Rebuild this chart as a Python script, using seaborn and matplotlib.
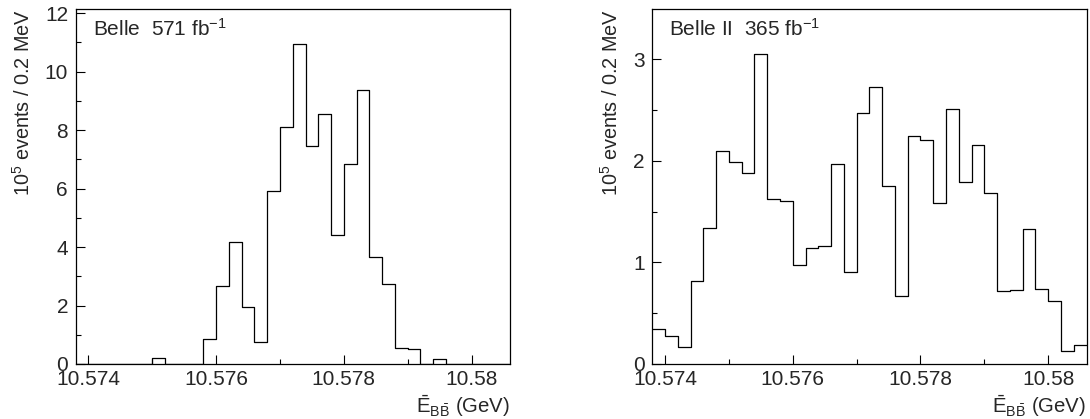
import numpy as np
import pandas as pd
import matplotlib
matplotlib.use("Agg")
import matplotlib.pyplot as plt
from matplotlib.ticker import FixedLocator, MultipleLocator
import seaborn as sns

# Binning shared by both panels (GeV)
bin_low = 10.5738
bin_width = 0.0002
n_bins = 34

# Yields per 0.2 MeV bin, in units of 10^5 events
belle_values = [0, 0, 0, 0, 0, 0, 0.22, 0, 0, 0,
                0.845, 2.67, 4.17, 1.94, 0.74, 5.90, 8.12, 10.95, 7.44, 8.55,
                4.42, 6.85, 9.37, 3.65, 2.75, 0.56, 0.525, 0, 0.16, 0,
                0, 0, 0, 0]
belle2_values = [0.348, 0.279, 0.171, 0.814, 1.339, 2.100, 1.989, 1.884, 3.046, 1.625,
                 1.608, 0.978, 1.139, 1.165, 1.963, 0.903, 2.468, 2.724, 1.749, 0.666,
                 2.248, 2.205, 1.582, 2.507, 1.792, 2.159, 1.680, 0.722, 0.732, 1.326,
                 0.742, 0.617, 0.128, 0.184]

panel_titles = [r"Belle  571 fb$^{-1}$", r"Belle II  365 fb$^{-1}$"]
x_ticks = [10.574, 10.576, 10.578, 10.580]
x_tick_labels = ["10.574", "10.576", "10.578", "10.58"]
belle_y_ticks = [0, 2, 4, 6, 8, 10, 12]
belle2_y_ticks = [0, 1, 2, 3]

x_label = r"$\bar{\mathrm{E}}_{\mathrm{B}\bar{\mathrm{B}}}$ (GeV)"
y_label = r"10$^{5}$ events / 0.2 MeV"

sns.set_style("ticks")
plt.rcParams["font.family"] = ["Liberation Sans", "DejaVu Sans"]
plt.rcParams["mathtext.fontset"] = "custom"
plt.rcParams["mathtext.rm"] = "Liberation Sans"
plt.rcParams["mathtext.it"] = "Liberation Sans"
plt.rcParams["mathtext.bf"] = "Liberation Sans:bold"
plt.rcParams["mathtext.default"] = "regular"

edges = [bin_low + bin_width * i for i in range(n_bins + 1)]
centers = [0.5 * (edges[i] + edges[i + 1]) for i in range(n_bins)]

fig = plt.figure(figsize=(10.9, 4.19), dpi=100)
ax_w, ax_h, ax_b = 0.3984, 0.8465, 0.1313
axes = [fig.add_axes([0.0694, ax_b, ax_w, ax_h]),
        fig.add_axes([0.5984, ax_b, ax_w, ax_h])]

panels = [
    (belle_values, belle_y_ticks, 12.13, 1),
    (belle2_values, belle2_y_ticks, 3.49, 0.5),
]

for ax, (vals, yticks, ytop, yminor), title in zip(axes, panels, panel_titles):
    df = pd.DataFrame({"E": centers, "w": vals})
    sns.histplot(data=df, x="E", weights="w", bins=edges, element="step",
                 fill=False, color="black", linewidth=0.9, ax=ax)
    ax.set_xlim(edges[0], edges[-1])
    ax.set_ylim(0, ytop)

    ax.xaxis.set_major_locator(FixedLocator(x_ticks))
    ax.set_xticklabels(x_tick_labels)
    ax.xaxis.set_minor_locator(MultipleLocator(0.001))
    ax.set_yticks(yticks)
    ax.set_yticklabels([str(t) for t in yticks])
    ax.yaxis.set_minor_locator(MultipleLocator(yminor))

    ax.tick_params(axis="both", which="major", direction="in", length=6.5,
                   width=0.8, labelsize=15, pad=5.5, color="black")
    ax.tick_params(axis="both", which="minor", direction="in", length=3.3,
                   width=0.8, color="black")
    ax.tick_params(axis="x", which="major", pad=4)
    for s in ax.spines.values():
        s.set_linewidth(0.9)
        s.set_color("black")
        s.set_visible(True)

    ax.set_xlabel(x_label, fontsize=14.7, loc="right", labelpad=3)
    ax.set_ylabel(y_label, fontsize=14.3, loc="top", labelpad=8)

    ax.text(0.039, 0.975, title, transform=ax.transAxes, ha="left", va="top",
            fontsize=15)

fig.savefig("out.png", dpi=100)
